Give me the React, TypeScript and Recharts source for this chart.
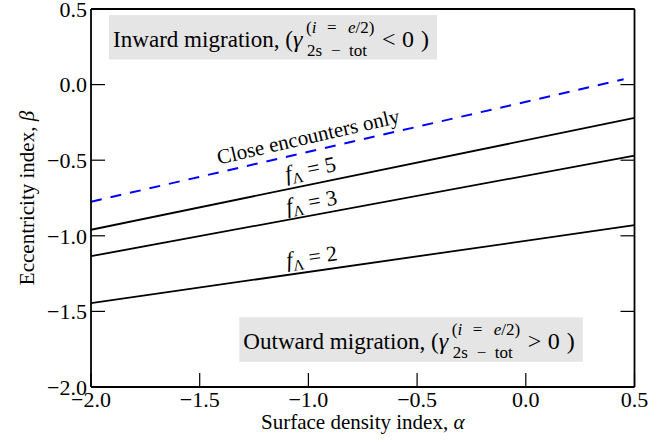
import React from 'react';
import { LineChart, Line, XAxis, YAxis, ReferenceDot } from 'recharts';

const FONT = '"Liberation Serif", "Times New Roman", Times, serif';

// surface density index (alpha) at the two ends of each line
const alphaEnds = [-2.0, 0.5];
const alphaEndsCE = [-2.0, 0.45];

const betaCloseEnc = [-0.775, 0.035];
const betaF5 = [-0.96, -0.22];
const betaF3 = [-1.135, -0.47];
const betaF2 = [-1.445, -0.93];

const axisTicks = [-2.0, -1.5, -1.0, -0.5, 0.0, 0.5];

// where the text labels sit (data coords)
const fLabels = ['5', '3', '2'];
const fLabelAlpha = [-0.984, -0.98, -0.98];
const fLabelBeta = [-0.604, -0.823, -1.186];
const fLabelAngle = [-11.7, -10.5, -8.2];

const ceLabelAt = { alpha: -0.994, beta: -0.39 };
const inwardBoxAt = { alpha: -1.917, beta: 0.46 };
const outwardBoxAt = { alpha: -1.318, beta: -1.539 };

const toPoints = (xs: number[], ys: number[]) => xs.map((a, i) => ({ alpha: a, beta: ys[i] }));

const fmt = (v: number) => (v < 0 ? '\u2212' + Math.abs(v).toFixed(1) : v.toFixed(1));

const NoTick = () => <g />;

// grey box with "... migration, (gamma^(i=e/2)_2s-tot < 0)"
const MigrationBox = ({ viewBox, main, sign, mainLen }: any) => {
  const { x, y } = viewBox;
  const s = mainLen - 180;
  const base = y + 31.5;
  const sx = x + 197 + s;
  return (
    <g fontFamily={FONT} fill="#000">
      <rect x={x} y={y} width={328 + s} height={44.5} fill="#e5e5e5" />
      <text x={x + 4} y={base} fontSize={24} textLength={mainLen} lengthAdjust="spacingAndGlyphs">{main}</text>
      <text x={x + 184 + s} y={base} fontSize={24} fontStyle="italic">γ</text>
      <text y={y + 18} fontSize={17}>
        <tspan x={sx}>(</tspan>
        <tspan fontStyle="italic">i</tspan>
        <tspan x={sx + 21}>=</tspan>
        <tspan x={sx + 42} fontStyle="italic">e</tspan>
        <tspan>/2)</tspan>
      </text>
      <text y={y + 41} fontSize={17}>
        <tspan x={sx + 1}>2s</tspan>
        <tspan x={sx + 25}>−</tspan>
        <tspan x={sx + 43}>tot</tspan>
      </text>
      <text x={x + 273 + s} y={base} fontSize={24}>{sign}</text>
      <text x={x + 293 + s} y={base} fontSize={24}>0</text>
      <text x={x + 312 + s} y={base} fontSize={24}>)</text>
    </g>
  );
};

const SlopeLabel = ({ viewBox, angle, children }: any) => {
  const { x, y } = viewBox;
  return (
    <text x={x} y={y} textAnchor="middle" fontFamily={FONT} fontSize={21} fill="#000"
      transform={`rotate(${angle}, ${x}, ${y})`}>
      {children}
    </text>
  );
};

const XTitle = ({ viewBox }: any) => (
  <text x={viewBox.x + viewBox.width / 2} y={viewBox.y + 42} textAnchor="middle"
    fontFamily={FONT} fontSize={21} fill="#000">
    Surface density index, <tspan fontStyle="italic">α</tspan>
  </text>
);

const YTitle = ({ viewBox }: any) => {
  const cx = viewBox.x - 4;
  const cy = viewBox.y + viewBox.height / 2;
  return (
    <text x={cx} y={cy} textAnchor="middle" dominantBaseline="central" fontFamily={FONT}
      fontSize={21} fill="#000" transform={`rotate(-90, ${cx}, ${cy})`}>
      Eccentricity index, <tspan fontStyle="italic">β</tspan>
    </text>
  );
};

const tickStyle = { fill: '#000', fontSize: 22, fontFamily: FONT };
const axisLineStyle = { stroke: '#000', strokeWidth: 1.8 };
const tickLineStyle = { stroke: '#000', strokeWidth: 1.2 };

export default function App() {
  return (
    <div style={{ position: 'absolute', left: 0, top: 0, width: 671, height: 443, background: '#fff', fontFamily: FONT }}>
      <LineChart width={671} height={443} margin={{ top: 5, right: 26.5, bottom: 16, left: 31 }}>
        <XAxis xAxisId={0} type="number" dataKey="alpha" domain={[-2, 0.5]} ticks={axisTicks}
          allowDataOverflow interval={0} height={40} tickSize={-14} tickMargin={18}
          tickFormatter={fmt} tick={tickStyle} axisLine={axisLineStyle} tickLine={tickLineStyle}
          label={(p: any) => <XTitle {...p} />} />
        <XAxis xAxisId="top" orientation="top" type="number" domain={[-2, 0.5]} ticks={axisTicks}
          allowDataOverflow interval={0} height={4} tickSize={-14} tick={NoTick}
          axisLine={axisLineStyle} tickLine={tickLineStyle} />
        <YAxis yAxisId={0} type="number" domain={[-2, 0.5]} ticks={axisTicks} allowDataOverflow
          interval={0} width={60} tickSize={-14} tickMargin={18} tickFormatter={fmt}
          tick={tickStyle} axisLine={axisLineStyle} tickLine={tickLineStyle}
          label={(p: any) => <YTitle {...p} />} />
        <YAxis yAxisId="right" orientation="right" type="number" domain={[-2, 0.5]} ticks={axisTicks}
          allowDataOverflow interval={0} width={10} tickSize={-14} tick={NoTick}
          axisLine={axisLineStyle} tickLine={tickLineStyle} />

        <Line data={toPoints(alphaEndsCE, betaCloseEnc)} dataKey="beta" stroke="#0000ff"
          strokeWidth={2} strokeDasharray="11 9" dot={false} activeDot={false} isAnimationActive={false} />
        <Line data={toPoints(alphaEnds, betaF5)} dataKey="beta" stroke="#000" strokeWidth={1.8}
          dot={false} activeDot={false} isAnimationActive={false} />
        <Line data={toPoints(alphaEnds, betaF3)} dataKey="beta" stroke="#000" strokeWidth={1.8}
          dot={false} activeDot={false} isAnimationActive={false} />
        <Line data={toPoints(alphaEnds, betaF2)} dataKey="beta" stroke="#000" strokeWidth={1.8}
          dot={false} activeDot={false} isAnimationActive={false} />

        <ReferenceDot x={ceLabelAt.alpha} y={ceLabelAt.beta} r={0} fill="none" stroke="none"
          ifOverflow="visible"
          label={(p: any) => <SlopeLabel {...p} angle={-13}>Close encounters only</SlopeLabel>} />
        {fLabels.map((f, i) => (
          <ReferenceDot key={f} x={fLabelAlpha[i]} y={fLabelBeta[i]} r={0} fill="none" stroke="none"
            ifOverflow="visible"
            label={(p: any) => (
              <SlopeLabel {...p} angle={fLabelAngle[i]}>
                <tspan fontStyle="italic" fontSize={22}>f</tspan>
                <tspan fontSize={15} dy={4}>Λ</tspan>
                <tspan dy={-4} fontSize={22}>{' = ' + f}</tspan>
              </SlopeLabel>
            )} />
        ))}

        <ReferenceDot x={inwardBoxAt.alpha} y={inwardBoxAt.beta} r={0} fill="none" stroke="none"
          ifOverflow="visible"
          label={(p: any) => <MigrationBox {...p} main="Inward migration, (" sign="<" mainLen={180} />} />
        <ReferenceDot x={outwardBoxAt.alpha} y={outwardBoxAt.beta} r={0} fill="none" stroke="none"
          ifOverflow="visible"
          label={(p: any) => <MigrationBox {...p} main="Outward migration, (" sign=">" mainLen={195.5} />} />
      </LineChart>
    </div>
  );
}
